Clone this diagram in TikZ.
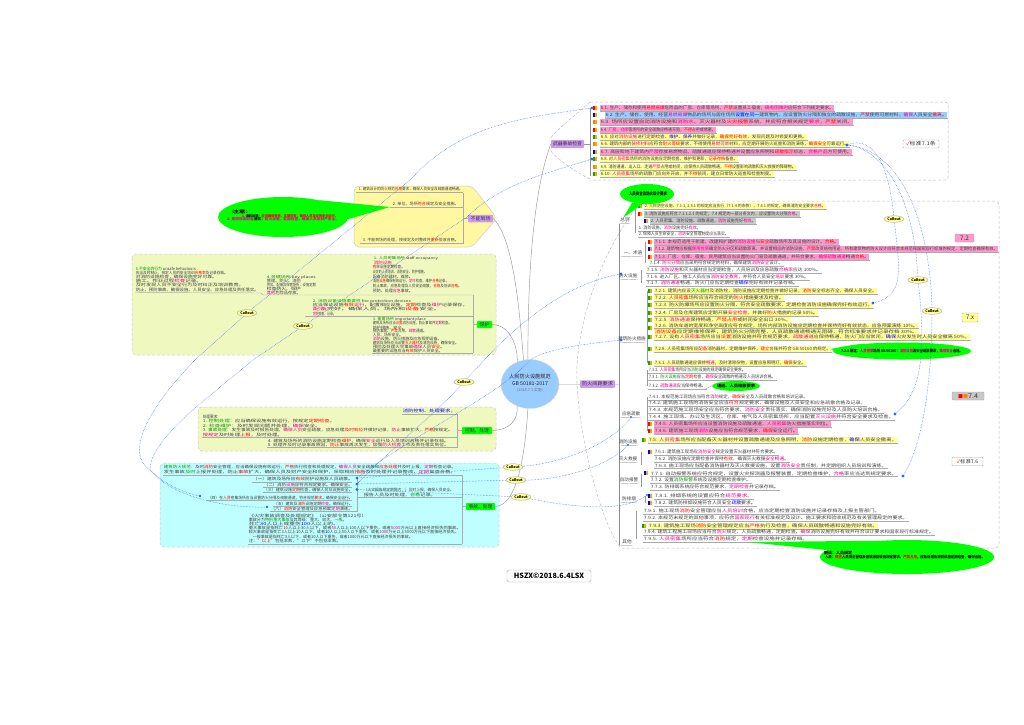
\documentclass[tikz,border=0pt]{standalone}
\usepackage{fontspec}
\usepackage{graphicx}
\setmainfont{Noto Sans CJK SC}
\usetikzlibrary{shapes.geometric}
\definecolor{hlY}{HTML}{FFFF99}
\definecolor{hlP}{HTML}{FF99CC}
\definecolor{hlB}{HTML}{99CCFF}
\definecolor{hlG}{HTML}{C8C8C8}
\definecolor{purp}{HTML}{CC99EE}
\definecolor{limeg}{HTML}{EFF8BF}
\definecolor{cyang}{HTML}{BFFFFF}
\definecolor{yelg}{HTML}{FFF8A0}
\definecolor{glow}{HTML}{00FF00}
\definecolor{linkb}{HTML}{3366FF}
\definecolor{mid}{HTML}{AAAAAA}
\newcommand\rd[1]{\textcolor{red}{#1}}
\newcommand\mg[1]{\textcolor{magenta}{#1}}
\newcommand\gn[1]{\textcolor{green!60!black}{#1}}
\newcommand\bl[1]{\textcolor{blue}{#1}}
\newcounter{rowc}
\newcommand\rw[5]{\stepcounter{rowc}%
 \node[rowtext,fill=#4,anchor=west] (r\therowc) at (#1,#3) {\resizebox*{\dimexpr #2pt-#1pt\relax}{4.2pt}{#5}};
 \draw[rowline] (r\therowc.south west) -- (r\therowc.south east);}
\newcommand\tl[4]{\stepcounter{rowc}%
 \node[rowtext,anchor=west] (r\therowc) at (#1,#3) {\resizebox*{\dimexpr #2pt-#1pt\relax}{3.8pt}{#4}};}
\newcommand\ic[3]{\fill[#3] (#1-6,#2-1.6) rectangle (#1-4,#2+1.6);\fill[orange!70!yellow] (#1-3.6,#2-1.6) rectangle (#1-1.6,#2+1.6);}
\newcommand\cat[3]{\stepcounter{rowc}%
 \node[rowtext,anchor=center] (r\therowc) at (#1,#2) {\resizebox*{!}{4.2pt}{#3}};
 \draw[rowline] (619,#2+3.8) -- (r\therowc.south east);}
\tikzset{
 rowtext/.style={inner xsep=0.6pt,inner ysep=0.9pt,text=black!75},
 rowline/.style={draw=mid,line width=0.45pt},
 spine/.style={draw=black!45,line width=0.6pt},
 bound/.style={draw=black!25,line width=0.5pt,densely dashed},
 branch/.style={draw=black!40,line width=0.45pt},
 thickb/.style={draw=black!15,line width=1pt},
 link/.style={draw=linkb,line width=0.5pt,densely dotted},
 dotn/.style={circle,fill=linkb,inner sep=0,minimum size=3.4pt},
 callout/.style={ellipse,draw=black!40,line width=0.3pt,fill=hlY,inner sep=0,minimum width=20pt,minimum height=6.6pt,font=\fontsize{3.6}{4}\selectfont\bfseries},
 lab/.style={draw=black!35,line width=0.4pt,rounded corners=0.8pt,inner sep=0,font=\fontsize{5}{6}\selectfont,text=black!80},
 hub/.style={rounded corners=0.8pt,inner sep=0,font=\fontsize{5.2}{6}\selectfont,text=black!80},
 blob/.style={ellipse,fill=glow,inner sep=0},
 blobt/.style={inner sep=0,align=left,font=\fontsize{3.8}{4.6}\selectfont\bfseries}
}
\begin{document}
\begin{tikzpicture}[x=1pt,y=-1pt]
\useasboundingbox[fill=white] (0,0) rectangle (1024,724);

% ---------- group backgrounds
\draw[bound,fill=white,rounded corners=3pt] (590,102) -- (948,102) -- (948,180) -- (590,180);
\draw[bound] (590,102) .. controls (572,118) and (556,130) .. (550,139);
\draw[bound] (590,179) .. controls (572,170) and (556,158) .. (550,150);
\draw[bound,rounded corners=4pt] (642,201) -- (999,201) -- (999,548) -- (622,548);
\draw[bound] (642,201) .. controls (600,250) and (574,330) .. (577,384) .. controls (580,440) and (600,520) .. (620,547);
\draw[draw=black!20,fill=yelg,line width=0.5pt,rounded corners=5pt] (354,186) -- (472,186) -- (497,218) -- (472,247) -- (354,247) -- cycle;
\draw[draw=black!20,fill=limeg,line width=0.5pt,rounded corners=4pt,densely dashed] (132,254) rectangle (496,355);
\draw[draw=black!20,fill=limeg,line width=0.5pt,rounded corners=4pt,densely dashed] (198,407) rectangle (496,451);
\draw[draw=black!20,fill=cyang,line width=0.5pt,rounded corners=4pt,densely dashed] (160,463) rectangle (499,547);

% ---------- centre and hubs
\node[ellipse,fill=hlB,draw=black!15,line width=0.3pt,minimum width=58pt,minimum height=49pt,inner sep=0] (ctr) at (530,384) {};
\node[inner sep=0,align=center,font=\fontsize{5.2}{6.6}\selectfont,text=black!85] (ctrt) at (530,383) {人民防火设施规范\\GB 50181-2017\\[-0.5pt]{\fontsize{3.8}{4}\selectfont\color{black!55}（2018.7.1 实施）}};
\node[hub,fill=purp,minimum width=33pt,minimum height=8pt] (hA) at (567.5,144) {\resizebox*{29pt}{4.4pt}{武器事故检查}};
\node[hub,fill=purp,minimum width=35pt,minimum height=7.5pt] (hB) at (597.5,384) {\resizebox*{31pt}{4.4pt}{防火间距要求}};
\node[hub,fill=purp,minimum width=25pt,minimum height=7.5pt] (hC) at (480.5,218.5) {\resizebox*{20pt}{4.4pt}{不能到场}};
\node[hub,fill=glow,minimum width=15pt,minimum height=7pt] (hD) at (484.5,324.5) {\resizebox*{10pt}{4.4pt}{保护}};
\node[hub,fill=glow,minimum width=30pt,minimum height=7pt] (hE) at (477,430.5) {\resizebox*{24pt}{4.4pt}{控制、处理}};
\node[hub,fill=glow,minimum width=29pt,minimum height=7pt] (hF) at (480.5,506.5) {\resizebox*{24pt}{4.4pt}{事故、处理}};

\draw[branch] (ctr.95) .. controls (528,300) and (530,200) .. (hA.west);
\draw[branch] (ctr.105) .. controls (520,320) and (515,240) .. (hC.east);
\draw[branch] (ctr.120) .. controls (518,350) and (512,325) .. (hD.east);
\draw[branch] (ctr.-120) .. controls (518,420) and (510,430) .. (hE.east);
\draw[branch] (ctr.-95) .. controls (526,440) and (520,506) .. (hF.east);
\draw[thickb] (ctr.east) -- (hB.west);
\draw[thickb] (hB.east) -- (619,384);

% ---------- group 1 rows
\draw[branch] (hA.east) -- (590,144);
\draw[spine] (590,108) -- (590,176);
\rw{600}{833}{108}{hlP}{6.1. 生产、储存和使用\rd{易燃易爆}危险品的厂房、仓库等场所，\rd{严禁}设置员工宿舍，\mg{确有困难时}应符合下列规定要求。}
\rw{605}{946}{115}{hlB}{6.2. 生产、储存、使用、经营\mg{易燃易爆}物品的场所与居住场所\bl{设置在同一}建筑物内，应设置防火分隔和独立的疏散设施，\rd{严禁}使用可燃材料，\mg{确保}人员安全\rd{撤离}。}
\rw{600}{852}{122}{hlP}{6.3. 场所应设置自动消防设施和\mg{消防水}、灭火器材及\rd{火灾报警}系统，并应符合相关规定\mg{要求}，\rd{严禁}关闭。}
\rw{600}{715}{130}{hlP}{6.4. \mg{厂房、仓库}等场所的安全疏散应畅通无阻，\rd{不得}占用或堵塞。}
\rw{600}{806}{137}{hlY}{6.5. 应对\mg{消防设施}进行定期检查、\bl{维护、保养}并做好记录，\rd{确保完好有效}，发现问题及时修复和更换。}
\rw{600}{848}{144}{hlY}{6.6. 建筑内部的\mg{装修材料}应符合\rd{耐火等级}要求，不得使用\mg{易燃可燃}材料，应定期开展防火巡查和消防演练，\rd{确保安全}可靠运行。}
\rw{600}{851}{152}{hlP}{6.7. 高层和地下建筑内\mg{严禁}存放易燃物品，疏散通道应保持畅通并设置应急照明和\rd{疏散指示}标志，\mg{合格产品}方可使用。}
\rw{600}{737}{159}{hlY}{6.8. 对\mg{人员密集}场所的消防设施应定期检查、维护和更新，\rd{记录存档}备查。}
\rw{600}{795}{167}{hlY}{6.9. 消防通道、出入口、走道\mg{严禁}占用或封闭，应保持人员疏散畅通，\rd{不得}设置影响疏散和灭火救援的障碍物。}
\rw{600}{773}{174}{hlY}{6.10. \mg{人员密集}场所的疏散门应向外开启，并\rd{不得}锁闭，建立日常防火巡查和检查制度。}
\foreach \yy/\cc in {108/red,115/blue,122/orange,130/red,137/green!70!black,144/orange,152/blue,159/green!70!black,167/orange,174/green!70!black}{\ic{599}{\yy}{\cc}}
\node[lab,fill=white,minimum width=36pt,minimum height=8pt] (lA) at (921,144) {\textcolor{red}{✓}\resizebox*{26pt}{4.6pt}{标准7.1条}};

% ---------- spine of group 2
\draw[spine] (619,224) -- (619,545);
\cat{625}{220}{总则}
\cat{633}{253}{一、术语}
\cat{628}{276}{防火设施}
\cat{632}{339}{建筑防火措施}
\cat{631}{414}{应急疏散}
\cat{628}{442}{消防设施}
\cat{628}{459}{灭火救援}
\cat{629}{480}{自动报警}
\cat{629}{499}{防排烟}
\cat{627}{542}{其他}
\draw[branch] (635,206) -- (635,233);
\draw[branch] (645,242) -- (645,263);
\draw[branch] (641,270) -- (641,283);
\draw[branch] (647,291) -- (647,363);
\draw[branch] (647,370) -- (647,386);
\draw[branch] (647,397) -- (647,431);
\draw[branch] (641,452) -- (641,465);
\draw[branch] (641,474) -- (641,487);
\draw[branch] (645,496) -- (645,503);
\draw[branch] (636,511) -- (636,539);

% ---------- group 2 rows
\rw{644}{825}{206}{hlY}{2. 人民防空设施、7.1.1, 2.3.1 的规定应当执行（7.1.4 的条款），7.4.1 的规定，确保消防安全要求\mg{合格}。}
\rw{644}{799}{214}{hlG}{3. 消防设施应符合 7.1.1.2.1 的规定，7.4 规定的一部分条文内，应设置防火分隔\mg{合格}。}
\rw{650}{755}{221}{hlG}{2. 人员密集、消防设施、疏散通道，\mg{消防}设施完好\mg{有效}。}
\rw{638}{700}{228}{none}{1. 消防设施，\mg{消防}设施完好\mg{有效}。}
\rw{638}{728}{234}{none}{2. 保障人员生命安全，\mg{消防}安全管理制度应当落实。}
\rw{654}{838}{242}{hlP}{7.1.1. 本规范适用于新建、改建和扩建的\mg{消防设施}与\rd{安全}疏散场所及其设施的设计。\rd{合格}。}
\rw{654}{997}{249}{hlP}{7.1.2. 建筑物应根据\mg{使用性质}确定防火分区和疏散距离，并设置相应的消防设施，\rd{严禁}改变结构用途，所有建筑物的防火设计应符合本规范和国家现行标准的规定，定期检查确保有效。}
\rw{654}{868}{257}{hlP}{7.1.3. 厂房、仓库、宿舍、民用建筑应当设置防火门窗及疏散通道，并符合要求，\mg{确保疏散通道}畅通\rd{合格}。}
\rw{649}{782}{263}{none}{7.1.4. \mg{防火分隔}应当采用符合规定的材料，确保建筑\mg{消防安全}设计。}
\rw{646}{820}{270}{none}{7.1.5. \mg{消防设施}和灭火器材应当定期检查，人员培训及应急疏散\mg{合格率}应达 100\%。}
\rw{646}{808}{277}{none}{7.1.6. 进入厂区、施工人员应当\mg{消防安全教育}，并符合人员安全\mg{培训}要求 30\%。}
\rw{646}{797}{283}{none}{7.1.7. \mg{消防通道}畅通，防火门应当定期检查\bl{确保}完好有效并记录存档。}
\rw{654}{876}{291}{hlY}{7.2.1. 建筑内应设\gn{灭火器材}及消防栓，消防设施应定期检查并做好记录，\rd{消防}安全标志齐全，确保人员安全。}
\rw{654}{783}{298}{hlY}{7.2.2. \rd{人员密集}场所应当符合规定的\mg{防火}措施要求及检查。}
\rw{654}{872}{305}{hlY}{7.2.3. 防火防爆场所应设置防火分隔，符合安全疏散要求，定期检查消防设施确保完好有效运行。}
\rw{654}{817}{313}{hlY}{7.2.4. 厂房及仓库建筑应定期开展\mg{安全检查}，并做好\rd{防火}措施的记录 50\%。}
\rw{654}{790}{320}{hlY}{7.2.5. \mg{消防通道}保持畅通，\rd{严禁占用}或封闭安全出口 30\%。}
\rw{654}{917}{325.5}{hlY}{7.2.6. 消防车道的宽度和净空高度应符合规定，场所内部消防设施应定期检查并保持完好有效状态，应急预案演练 10\%。}
\rw{654}{917}{331.5}{hlY}{\rd{消防设备}应定期维修保养，建筑防火分隔完整，人员疏散通道畅通无阻碍，符合标准要求并记录存档 30\%。}
\rw{654}{969}{337}{hlY}{7.2.7. 设有\mg{人员密集}场所应当\rd{设置}消防设施并符合规范要求，\mg{疏散通道}应保持畅通，防火门应当常闭，\bl{确保}火灾发生时人员安全撤离 50\%。}
\rw{654}{830}{349}{hlY}{7.2.8. 人员密集场所应\mg{配备}消防器材，定期维护保养，\rd{建立}台账并符合 GB 50160 的规定。}
\rw{654}{805}{363}{hlY}{7.3.1. 人员疏散通道应保持\mg{畅通}，及时清除杂物，设置应急照明灯，\rd{确保}安全。}
\rw{648}{745}{370}{none}{7.3.2. \mg{人员密集}场所应当\gn{消防}设施的规定确保安全要求。}
\rw{648}{775}{377}{none}{7.3.1. \gn{防火设施}应当\rd{定期}检查，\mg{确保}安全疏散的畅通及人员培训合格。}
\rw{648}{705}{386}{none}{7.3.2. \mg{疏散通道}应当保持畅通。}
\rw{648}{807}{397}{none}{7.4.1. 本规范施工现场应当符合\mg{消防}规定，\rd{确保}安全及人员疏散合格和培训记录。}
\rw{648}{865}{403}{none}{7.4.2. 建筑施工现场的消防安全应当\rd{符合}规定要求，确保设施及人员安全和应急疏散合格及记录。}
\rw{648}{882}{410}{none}{7.4.3. 本规范施工现场安全应当符合要求，\mg{消防安全}责任落实，确保消防设施完好及人员防火培训合格。}
\rw{648}{893}{417}{none}{7.4.4. 施工现场、办公及生活区、仓库、电气及人员密集场所，应当配置\mg{灭火设施}并符合安全要求及检查。}
\rw{654}{830}{424}{hlP}{7.4.5. 人员密集场所应当设置消防设施及疏散通道，\mg{人员密集}防火措施落实到位。}
\rw{654}{797}{431}{hlP}{7.4.6. 建筑施工现场\mg{消防}设施应当符合规范要求，\rd{确保}安全运行。}
\rw{648}{896}{440}{hlY}{7.5. \mg{人员密集}场所应当配备灭火器材并设置疏散通道及应急照明，\rd{消防}设施定期检查，\bl{确保}人员安全撤离。}
\rw{654}{777}{452}{none}{7.6.1. 建筑施工现场应\mg{消防安全}规定设置灭火器材并符合要求。}
\rw{654}{788}{459}{none}{7.6.2. 消防设施应定期检查并保持\rd{有效}，确保灭火救援\mg{安全畅通}。}
\rw{654}{886}{465.5}{none}{7.6.3. 施工现场应当配备消防器材及灭火救援设施，设置\mg{消防安全}责任制，并定期组织人员培训和演练。}
\rw{650}{896}{473.5}{none}{7.7.1. 自动报警系统应符合规定，设置火灾探测器及报警装置，定期检查维护，\mg{合格}率应当达到规定要求。}
\rw{650}{750}{480}{none}{7.7.2. 设置\gn{消防报警}系统及设施定期检查维护。}
\rw{650}{778}{487}{none}{7.7.3. 防排烟系统应符合规范要求，\mg{定期检查}并记录存档。}
\rw{654}{752}{496}{none}{7.8.1. 排烟系统的设置应符合\mg{规范要求}。}
\rw{654}{755}{503}{none}{7.8.2. 建筑防排烟设施符合人员安全\bl{疏散}要求。}
\rw{643}{879}{511}{none}{7.9.1. 施工现场\rd{消防}安全管理应当\mg{人员培训}合格，应当定期检查消防设施并记录存档及上报主管部门。}
\rw{643}{907}{518}{none}{7.9.2. 本规范未规定的其他事项，应符合\mg{国家现行}有关标准规定及设计、施工要求和验收规范及有关管理规定的要求。}
\rw{648}{877}{526}{hlY}{7.9.3. 建筑施工现场\rd{消防}安全管理规定应当\mg{严格}执行及检查，确保人员疏散畅通和设施完好有效。}
\rw{643}{933}{532}{none}{7.9.4. 建筑工程施工现场应当符合\mg{防火}规定，人员疏散畅通，定期检查，\mg{确保}消防设施完好有效并符合设计要求和国家现行标准规定。}
\rw{643}{807}{539}{none}{7.9.5. \mg{人员密集}场所应当符合\rd{消防}规定，\mg{定期}检查设施并记录存档。}
\foreach \xx/\yy/\cc in {644/206/green!70!black,644/214/red,650/221/blue,654/242/red,654/249/blue,654/257/red,654/291/green!70!black,654/298/green!70!black,654/305/green!70!black,654/313/green!70!black,654/320/green!70!black,654/328/green!70!black,654/337/green!70!black,654/349/green!70!black,654/363/green!70!black,654/424/red,654/431/red,648/440/green!70!black,654/452/blue,654/496/blue,654/503/blue,650/473/blue,648/526/green!70!black}{\ic{\xx}{\yy}{\cc}}
\node[lab,fill=hlP,minimum width=19pt,minimum height=8pt] (lB) at (964.5,238) {\resizebox*{9pt}{4.6pt}{7.2}};
\node[lab,fill=hlY,minimum width=16pt,minimum height=9pt] (lC) at (970,317.5) {\resizebox*{8pt}{4.6pt}{7.x}};
\node[lab,fill=hlG,minimum width=32pt,minimum height=8pt] (lD) at (968,396) {\textcolor{red}{■}\textcolor{orange}{■}\resizebox*{10pt}{4.6pt}{7.4}};
\node[lab,fill=white,minimum width=31pt,minimum height=8.5pt] (lE) at (967.5,461.5) {\textcolor{red}{✓}\resizebox*{18pt}{4.6pt}{标准7.6}};

% ---------- yellow group
\tl{358}{462}{189.5}{1. 建筑设计的防火规范\rd{合格}要求，确保人员安全及疏散通道畅通。}
\tl{392}{458}{204}{2. 单位、场所\rd{符合}规定及安全措施。}
\tl{362}{458}{240.5}{3. 不能到场的处理，按规定及时整改并\rd{重新}验收合格。}
\draw[rowline] (356,192.5) -- (463,192.5);
\draw[rowline] (390,207) -- (463,207);
\draw[rowline] (360,243.5) -- (463,243.5);
\draw[rowline] (463,192.5) -- (463,243.5);
\draw[rowline] (463,218.5) -- (hC.west);

% ---------- lime group
\tl{135}{195}{269}{\gn{5.不安全的行为}\ unsafe behaviours}
\tl{135}{227}{273}{应当及时制止，规定人员的安全培训\rd{合格率}及记录存档。}
\tl{135}{216}{277}{对消防设施检查，确保设施完好可靠。}
\tl{135}{201}{281}{施工、作业过程\mg{检查}记录。}
\tl{135}{243}{285}{及时发现人员不安全行为及时纠正及培训教育。}
\tl{135}{258}{289.5}{防止、预防事故、确保设施、人员安全、应急处理及责任落实。}
\draw[rowline] (135,292.5) -- (261,293) -- (263,295) -- (473,295);
\tl{266}{315}{277}{\gn{4.关键场所}\ key places}
\tl{266}{300}{281}{管理、防火、消防}
\tl{266}{315}{285}{供应、配电及保管场所，设施定期}
\tl{266}{300}{289}{检查防火、保护}
\tl{266}{300}{293}{\mg{其他}危险品存放。}
\tl{373}{437}{258.5}{\gn{1. 人员密集场所}\ staff occupancy}
\tl{373}{391}{263}{\mg{消防设施}}
\tl{372}{404}{267}{\rd{有}效设施定期检查。}
\tl{372}{426}{272}{设定的人员培训、消防安全、防护措施。}
\tl{372}{412}{277}{配备消防器材、维修。}
\tl{372}{448}{281}{消防\rd{设施}确保有效运行，\mg{定时}检查、维护\rd{合格}记录。}
\tl{372}{461}{286}{防止事故，应急处理及人员安全疏散，\rd{合格}及培训\rd{合格}。}
\tl{372}{412}{290.5}{预防、处理\mg{应急}事故。}
\tl{312}{410}{301}{\gn{2. 消防设备设施重要性}\ fire protection devices}
\tl{312}{467}{305}{应当保证设施\rd{有效}\mg{运行}，配置相应设施，\rd{定期}检查及\mg{维护}记录保存。}
\tl{312}{440}{309}{\mg{配备}完好，确保人员、场所和\rd{设备}安全。}
\tl{312}{335}{313.5}{\mg{定期}检查、记录。}
\draw[rowline] (305,316) -- (473,316);
\tl{372}{425}{319.5}{\gn{3. 重要场所}\ important place}
\tl{372}{451}{323.5}{建筑及场所应当\rd{设置}消防设施，防止事故并\mg{定期}检查。}
\tl{372}{405}{327.5}{防护措施、安全。}
\tl{372}{426}{331}{预防事故、\rd{严禁}占用、\mg{疏散}通道。}
\tl{372}{402}{335}{人员、场所安全。}
\tl{372}{441}{339}{\mg{消防}设施、防火措施及应急照明设备。}
\tl{372}{458}{343}{建筑及场所应当设置\rd{灭火器材}及消防设施，确保安全。}
\tl{372}{444}{347}{预防及处理火灾事故\mg{确保}人员\rd{安全}。}
\tl{372}{442}{351}{最重要的设施应当\rd{有效}保护人员安全。}
\draw[rowline] (372,353) -- (473,353);
\draw[rowline] (473,295) -- (473,353);
\draw[rowline] (473,324.5) -- (hD.west);

% ---------- control group
\tl{402}{455}{411}{\bl{消防控制、处理要求}。}
\draw[rowline] (402,414) -- (457,414);
\tl{202}{220}{417}{处理要求：}
\tl{202}{334}{421.5}{\gn{1. 控制处理：}应当确保设施有效运行，按规定\rd{定期检查}。}
\tl{202}{320}{426}{\gn{2. 检查维护：}及时发现问题并处理，\mg{确保}安全。}
\tl{202}{452}{430.5}{\gn{3. 事故处理：}发生事故及时报告处理，\mg{确保人员}安全疏散，应急处理\rd{及时到位}并做好记录，\mg{防止}事故扩大，\rd{严格}按规定。}
\tl{202}{282}{435}{\mg{按规定}及时处理\rd{上报}，及时处理。}
\draw[rowline] (202,437) -- (457,437);
\tl{267}{448}{441}{4. 建筑及场所的消防设施定期检查\rd{维护}，确保\mg{安全}运行及人员培训合格并记录存档。}
\tl{267}{448}{445}{5. 处理并及时记录事故原因，\rd{防止}事故再次发生，加强\mg{防火检查}工作及责任落实到位。}
\draw[rowline] (267,447.5) -- (457,447.5);
\draw[rowline] (457,414) -- (457,447.5);
\draw[rowline] (457,430.5) -- (hE.west);

% ---------- cyan group
\tl{163}{455}{467}{\gn{建筑防火规范：}及时\rd{消防}安全管理，应当确保设施有效运行，\rd{严格}执行检查和处理规定，\mg{确保人员}安全疏散和\rd{应急处理}并及时上报，\mg{定期}检查记录。}
\tl{163}{455}{472.5}{发生事故\gn{及时}上报并处理，防止\rd{事故}扩大，确保人员及财产安全和保护，采取相应\rd{措施}及时处理并记录整改，\mg{定期}复查合格。}
\draw[rowline] (163,475) -- (462,475);
\tl{252}{352}{479}{（一）建筑及场所应\rd{有效}防护设施及人员疏散。}
\tl{263}{352}{485}{（二）消防\mg{设施}应符合规定要求。确保安全。}
\tl{263}{352}{490}{（三）建筑设施\rd{定期}检查，确保人员及设施安全。}
\tl{207}{352}{498}{（四）在\rd{人员}密集场所应当设置防火分隔及疏散通道，符合规范\rd{要求}。确保安全运行。}
\tl{273}{352}{504}{（五）建筑及\rd{消防}设施定期\mg{检查}。确保运行。}
\tl{270}{352}{509}{（六）\rd{消防}安全管理及应急预案\mg{定期}演练。}
\draw[rowline] (252,482) -- (352,482);
\draw[rowline] (263,487.5) -- (352,487.5);
\draw[rowline] (263,492.5) -- (352,492.5);
\draw[rowline] (207,500.5) -- (352,500.5);
\draw[rowline] (273,506.5) -- (352,506.5);
\draw[rowline] (270,511.5) -- (357,511.5);
\draw[rowline] (357,479) -- (357,511.5);
\tl{363}{453}{490}{（火灾报告规定期限内：）及时上报，确保人员安全。}
\tl{363}{435}{495}{报告人员及时处理，\gn{合格}记录。}
\draw[rowline] (357,497) -- (462,497);
\tl{248}{366}{515.5}{《火灾事故调查及处理规定》（公安部令第121号）}
\tl{248}{346}{520}{事故分为\gn{特别重大事故}及其等级：重大、较大、\gn{一般}。}
\tl{248}{338}{524}{死亡\bl{30}人以上或重伤\bl{100}人以上的。}
\tl{248}{460}{528}{重大事故是指死亡\rd{10}人以上30人以下，或者\mg{50}人以上100人以下重伤，或者\mg{5000}万元以上直接经济损失的事故。}
\tl{248}{458}{532.5}{较大事故是指死亡\rd{3}人以上10人以下，或者\bl{10}人以上50人以下重伤，或者\mg{1000}万元以上5000万元以下直接经济损失。}
\tl{252}{412}{537}{一般事故是指死亡3人以下，或者10人以下重伤，或者1000万元以下直接经济损失的事故。}
\tl{248}{340}{541}{注：\rd{"以上"}包括本数，"以下"不包括本数。}
\draw[rowline] (248,544) -- (462,544);
\draw[rowline] (462,475) -- (462,544);
\draw[rowline] (462,506.5) -- (hF.west);

% ---------- green bubbles
\node[blob,minimum width=54pt,minimum height=20pt] (bTop) at (647,194) {};
\fill[glow] (bTop.-150) -- (623,218) -- (bTop.-115) -- cycle;
\node[blobt] (bTopt) at (648,194) {\resizebox*{38pt}{4.2pt}{人员安全及防火设计要求}};
\node[blob,minimum width=130pt,minimum height=40pt] (bLeft) at (283,217) {};
\fill[glow] (bLeft.25) -- (390,207) -- (bLeft.-2) -- cycle;
\node[blobt] (bLeftA) at (240,212) {\resizebox*{16pt}{4pt}{\textcolor{black}{注意}\rd{:}}};
\node[blobt] (bLeftB) at (290,216) {\resizebox*{96pt}{3.6pt}{\rd{1.}\ 消防\textcolor{black}{设施：}\rd{应当确保有效，定期检查，确保人员及设施安全运行。}}};
\node[blobt] (bLeftC) at (283,219.5) {\resizebox*{112pt}{3.6pt}{\mg{2. 按照规定配备}\textcolor{black}{消防：}\mg{防火设施，定期检查，确保人员及财产安全。}}};
\node[blob,minimum width=138pt,minimum height=17pt] (bMid) at (902,351) {};
\fill[glow] (830,349) -- (bMid.170) -- (bMid.-170) -- cycle;
\node[blobt] (bMidt) at (902,351) {\resizebox*{122pt}{4pt}{\textcolor{black}{7.2.8 规定：}\mg{人员密集}场所 GB 50160：\mg{消防设施}及安全疏散要求，\mg{确保安全}合格。}};
\node[blob,minimum width=48pt,minimum height=10pt] (bSm) at (736,386) {};
\draw[rowline] (705,389) -- (bSm.west);
\node[blobt] (bSmt) at (736,386) {\resizebox*{38pt}{3.8pt}{通道、人员疏散要求}};
\node[blob,minimum width=174pt,minimum height=34pt] (bBig) at (907,557) {};
\fill[glow] (747,542) -- (bBig.150) -- (bBig.175) -- cycle;
\node[blobt] (bBigA) at (838,553) {\resizebox*{28pt}{3.8pt}{\textcolor{black}{解读：人员规定}}};
\node[blobt] (bBigB) at (905,557.5) {\resizebox*{160pt}{3.8pt}{\textcolor{black}{人员：}\rd{规定}\textcolor{black}{人员安全管理及建筑消防设施规定要求。}\rd{严禁占用}\textcolor{black}{，应急处理及消防设施定期检查，确保合格。}}};

% ---------- link end points
\node[dotn] (d1) at (592,108) {};
\node[dotn] (d2) at (592,159) {};
\node[dotn] (d3) at (621,274) {};
\node[dotn] (d4) at (621,340) {};
\node[dotn] (d5) at (357,478) {};
\node[dotn] (d6) at (357,484) {};
\node[dotn] (d7) at (357,489.5) {};
\node[dotn] (d8) at (847,145) {};
\node[dotn] (d9) at (873,303) {};
\node[dotn] (d10) at (895,414) {};
\node[dotn] (d11) at (903,476) {};
\node[dotn,minimum size=2.4pt] (d12) at (631,417) {};
\node[dotn,minimum size=2.4pt] (d13) at (628,445) {};
\node[dotn,minimum size=2.4pt] (d14) at (647,495) {};
\node[dotn,minimum size=2.6pt] (d15) at (200,496) {};
\node[dotn,minimum size=2.6pt] (d16) at (267,507) {};

% ---------- links, then callouts on top of them
\coordinate (c1) at (247,313);
\coordinate (c2) at (303,326);
\coordinate (c3) at (464,382);
\coordinate (c4) at (513,467);
\coordinate (c5) at (516,480);
\coordinate (c6) at (521,497);
\coordinate (c7) at (894,219);
\coordinate (c8) at (918,280);
\coordinate (c9) at (932,311);
\draw[link] (d1) .. controls (520,118) and (460,125) .. (410,180) -- (c1);
\draw[link] (c1) -- (197,358) .. controls (160,395) and (120,450) .. (150,470) .. controls (165,485) and (185,493) .. (d15);
\draw[link] (d2) .. controls (540,175) and (500,185) .. (467,217) -- (c2);
\draw[link] (c2) -- (253,360) .. controls (205,400) and (150,440) .. (150,470) .. controls (170,495) and (220,508) .. (d16);
\draw[link] (d3) .. controls (560,285) and (510,330) .. (c3);
\draw[link] (c3) .. controls (440,410) and (400,440) .. (d6);
\draw[link] (d4) .. controls (575,345) and (545,350) .. (530,360) .. controls (500,395) and (420,430) .. (d5);
\draw[link] (d12) .. controls (610,445) and (560,465) .. (c4);
\draw[link] (c4) -- (d5);
\draw[link] (d13) .. controls (610,465) and (560,482) .. (c5);
\draw[link] (c5) -- (d6);
\draw[link] (d14) .. controls (620,515) and (560,505) .. (c6);
\draw[link] (c6) -- (d7);
\draw[link] (d8) .. controls (875,135) and (890,170) .. (c7);
\draw[link] (c7) .. controls (900,270) and (905,295) .. (d9);
\draw[link] (d8) .. controls (885,150) and (915,200) .. (c8);
\draw[link] (c8) .. controls (925,340) and (925,390) .. (d10);
\draw[link] (d8) .. controls (895,150) and (930,210) .. (c9);
\draw[link] (c9) .. controls (932,370) and (925,440) .. (d11);
\node[callout] (c1n) at (c1) {Callout};
\node[callout] (c2n) at (c2) {Callout};
\node[callout] (c3n) at (c3) {Callout};
\node[callout] (c4n) at (c4) {Callout};
\node[callout] (c5n) at (c5) {Callout};
\node[callout] (c6n) at (c6) {Callout};
\node[callout] (c7n) at (c7) {Callout};
\node[callout] (c8n) at (c8) {Callout};
\node[callout] (c9n) at (c9) {Callout};

% ---------- signature
\node[draw=black!35,line width=0.4pt,rounded corners=1.5pt,fill=white,minimum width=84pt,minimum height=12pt,inner sep=0,font=\fontsize{7.2}{8}\selectfont\bfseries] (sig) at (549,576) {HSZX©2018.6.4LSX};
\end{tikzpicture}
\end{document}
